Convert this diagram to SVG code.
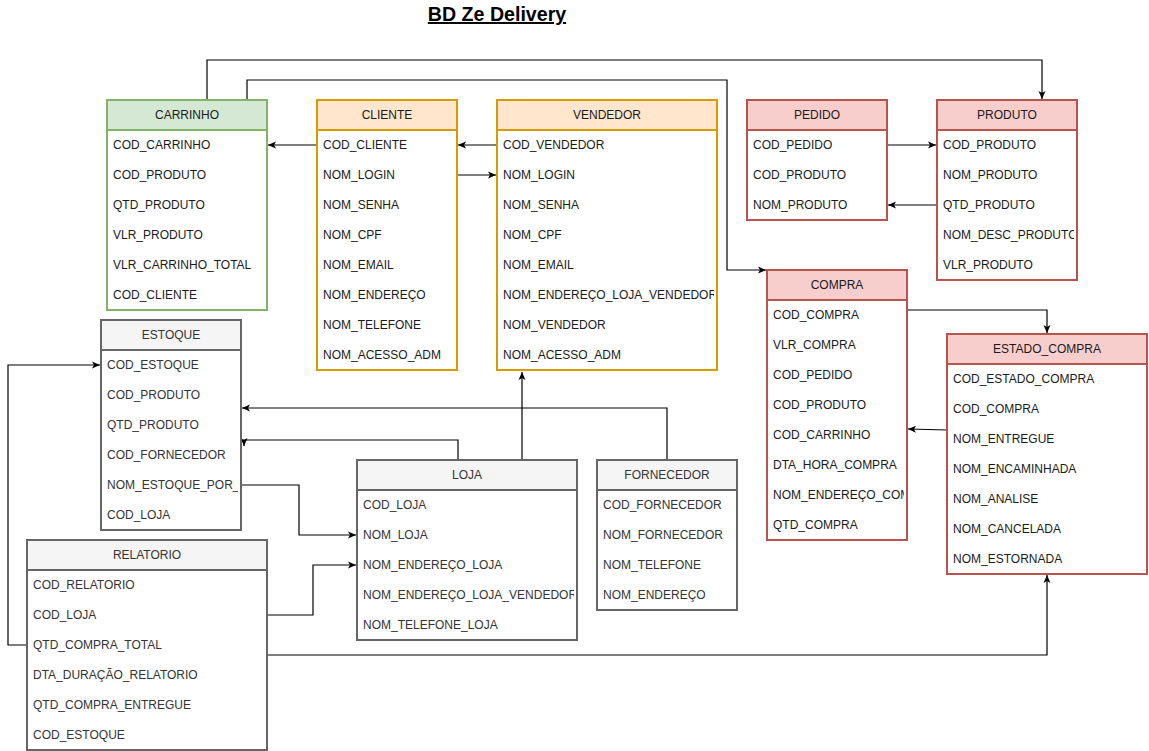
<svg xmlns="http://www.w3.org/2000/svg" width="1149" height="751" viewBox="0 0 1149 751">
<style>
.t{font-family:"Liberation Sans",Arial,sans-serif;font-size:12px;fill:#1a1a1a}
.g .t{fill:#333333}
.h{text-anchor:middle}
.box{stroke-width:2}
.green .box{fill:#ffffff;stroke:#82b366}.green .hd{fill:#d5e8d4;stroke:#82b366}
.orange .box{fill:#ffffff;stroke:#d79b00}.orange .hd{fill:#ffe6cc;stroke:#d79b00}
.red .box{fill:#ffffff;stroke:#b85450}.red .hd{fill:#f8cecc;stroke:#b85450}
.g .box{fill:#ffffff;stroke:#666666}.g .hd{fill:#f5f5f5;stroke:#666666}
.hd{stroke-width:2}
.c{fill:none;stroke:#000;stroke-width:1.2;marker-end:url(#a)}
.title{font-family:"Liberation Sans",Arial,sans-serif;font-size:19.6px;font-weight:bold;text-decoration:underline;fill:#000;text-anchor:middle}
</style>
<defs>
<marker id="a" viewBox="0 0 8 8" refX="8" refY="4" markerWidth="8" markerHeight="8" orient="auto" markerUnits="userSpaceOnUse">
<path d="M0,0.5 L8,4 L0,7.5 L2,4 z" fill="#000"/>
</marker>
<clipPath id="cvend"><rect x="497" y="100" width="217" height="270"/></clipPath>
<clipPath id="cloja"><rect x="357" y="460" width="217" height="180"/></clipPath>
<clipPath id="ccomp"><rect x="767" y="270" width="137" height="270"/></clipPath>
<clipPath id="cest"><rect x="101" y="320" width="137" height="210"/></clipPath>
<clipPath id="cprod"><rect x="937" y="100" width="137" height="180"/></clipPath>
</defs>
<rect width="1149" height="751" fill="#ffffff"/>
<text class="title" x="497" y="21">BD Ze Delivery</text>

<g id="connectors">
<path class="c" d="M207,100 V60 H1042 V99"/>
<path class="c" d="M247,100 V80 H727 V270 H766"/>
<path class="c" d="M317,145 H268"/>
<path class="c" d="M497,145 H458"/>
<path class="c" d="M457,175 H496"/>
<path class="c" d="M887,145 H936"/>
<path class="c" d="M937,205 H888"/>
<path class="c" d="M907,310 H1047 V333"/>
<path class="c" d="M947,430 L908,429"/>
<path class="c" d="M667,460 V408 H242"/>
<path class="c" d="M458,460 V440 H244 V446"/>
<path class="c" d="M522,460 V372"/>
<path class="c" d="M241,485 H299 V535 H356"/>
<path class="c" d="M267,615 H313 V565 H356"/>
<path class="c" d="M27,645 H8 V365 H100"/>
<path class="c" d="M267,705 V655 H1047 V575"/>
</g>

<g id="carrinho" class="green">
<rect class="box" x="107" y="100" width="160" height="210"/>
<rect class="hd" x="107" y="100" width="160" height="30"/>
<text class="t h" x="187" y="119">CARRINHO</text>
<text class="t" x="113" y="149">COD_CARRINHO</text>
<text class="t" x="113" y="179">COD_PRODUTO</text>
<text class="t" x="113" y="209">QTD_PRODUTO</text>
<text class="t" x="113" y="239">VLR_PRODUTO</text>
<text class="t" x="113" y="269">VLR_CARRINHO_TOTAL</text>
<text class="t" x="113" y="299">COD_CLIENTE</text>
</g>

<g id="cliente" class="orange">
<rect class="box" x="317" y="100" width="140" height="270"/>
<rect class="hd" x="317" y="100" width="140" height="30"/>
<text class="t h" x="387" y="119">CLIENTE</text>
<text class="t" x="323" y="149">COD_CLIENTE</text>
<text class="t" x="323" y="179">NOM_LOGIN</text>
<text class="t" x="323" y="209">NOM_SENHA</text>
<text class="t" x="323" y="239">NOM_CPF</text>
<text class="t" x="323" y="269">NOM_EMAIL</text>
<text class="t" x="323" y="299">NOM_ENDEREÇO</text>
<text class="t" x="323" y="329">NOM_TELEFONE</text>
<text class="t" x="323" y="359">NOM_ACESSO_ADM</text>
</g>

<g id="vendedor" class="orange">
<rect class="box" x="497" y="100" width="220" height="270"/>
<rect class="hd" x="497" y="100" width="220" height="30"/>
<text class="t h" x="607" y="119">VENDEDOR</text>
<g clip-path="url(#cvend)">
<text class="t" x="503" y="149">COD_VENDEDOR</text>
<text class="t" x="503" y="179">NOM_LOGIN</text>
<text class="t" x="503" y="209">NOM_SENHA</text>
<text class="t" x="503" y="239">NOM_CPF</text>
<text class="t" x="503" y="269">NOM_EMAIL</text>
<text class="t" x="503" y="299">NOM_ENDEREÇO_LOJA_VENDEDOR</text>
<text class="t" x="503" y="329">NOM_VENDEDOR</text>
<text class="t" x="503" y="359">NOM_ACESSO_ADM</text>
</g>
</g>

<g id="pedido" class="red">
<rect class="box" x="747" y="100" width="140" height="120"/>
<rect class="hd" x="747" y="100" width="140" height="30"/>
<text class="t h" x="817" y="119">PEDIDO</text>
<text class="t" x="753" y="149">COD_PEDIDO</text>
<text class="t" x="753" y="179">COD_PRODUTO</text>
<text class="t" x="753" y="209">NOM_PRODUTO</text>
</g>

<g id="produto" class="red">
<rect class="box" x="937" y="100" width="140" height="180"/>
<rect class="hd" x="937" y="100" width="140" height="30"/>
<text class="t h" x="1007" y="119">PRODUTO</text>
<g clip-path="url(#cprod)">
<text class="t" x="943" y="149">COD_PRODUTO</text>
<text class="t" x="943" y="179">NOM_PRODUTO</text>
<text class="t" x="943" y="209">QTD_PRODUTO</text>
<text class="t" x="943" y="239">NOM_DESC_PRODUTO</text>
<text class="t" x="943" y="269">VLR_PRODUTO</text>
</g>
</g>

<g id="compra" class="red">
<rect class="box" x="767" y="270" width="140" height="270"/>
<rect class="hd" x="767" y="270" width="140" height="30"/>
<text class="t h" x="837" y="289">COMPRA</text>
<g clip-path="url(#ccomp)">
<text class="t" x="773" y="319">COD_COMPRA</text>
<text class="t" x="773" y="349">VLR_COMPRA</text>
<text class="t" x="773" y="379">COD_PEDIDO</text>
<text class="t" x="773" y="409">COD_PRODUTO</text>
<text class="t" x="773" y="439">COD_CARRINHO</text>
<text class="t" x="773" y="469">DTA_HORA_COMPRA</text>
<text class="t" x="773" y="499">NOM_ENDEREÇO_COMPRA</text>
<text class="t" x="773" y="529">QTD_COMPRA</text>
</g>
</g>

<g id="estado_compra" class="red">
<rect class="box" x="947" y="334" width="200" height="240"/>
<rect class="hd" x="947" y="334" width="200" height="30"/>
<text class="t h" x="1047" y="353">ESTADO_COMPRA</text>
<text class="t" x="953" y="383">COD_ESTADO_COMPRA</text>
<text class="t" x="953" y="413">COD_COMPRA</text>
<text class="t" x="953" y="443">NOM_ENTREGUE</text>
<text class="t" x="953" y="473">NOM_ENCAMINHADA</text>
<text class="t" x="953" y="503">NOM_ANALISE</text>
<text class="t" x="953" y="533">NOM_CANCELADA</text>
<text class="t" x="953" y="563">NOM_ESTORNADA</text>
</g>

<g id="estoque" class="g">
<rect class="box" x="101" y="320" width="140" height="210"/>
<rect class="hd" x="101" y="320" width="140" height="30"/>
<text class="t h" x="171" y="339">ESTOQUE</text>
<g clip-path="url(#cest)">
<text class="t" x="107" y="369">COD_ESTOQUE</text>
<text class="t" x="107" y="399">COD_PRODUTO</text>
<text class="t" x="107" y="429">QTD_PRODUTO</text>
<text class="t" x="107" y="459">COD_FORNECEDOR</text>
<text class="t" x="107" y="489">NOM_ESTOQUE_POR_LOJA</text>
<text class="t" x="107" y="519">COD_LOJA</text>
</g>
</g>

<g id="loja" class="g">
<rect class="box" x="357" y="460" width="220" height="180"/>
<rect class="hd" x="357" y="460" width="220" height="30"/>
<text class="t h" x="467" y="479">LOJA</text>
<g clip-path="url(#cloja)">
<text class="t" x="363" y="509">COD_LOJA</text>
<text class="t" x="363" y="539">NOM_LOJA</text>
<text class="t" x="363" y="569">NOM_ENDEREÇO_LOJA</text>
<text class="t" x="363" y="599">NOM_ENDEREÇO_LOJA_VENDEDOR</text>
<text class="t" x="363" y="629">NOM_TELEFONE_LOJA</text>
</g>
</g>

<g id="fornecedor" class="g">
<rect class="box" x="597" y="460" width="140" height="150"/>
<rect class="hd" x="597" y="460" width="140" height="30"/>
<text class="t h" x="667" y="479">FORNECEDOR</text>
<text class="t" x="603" y="509">COD_FORNECEDOR</text>
<text class="t" x="603" y="539">NOM_FORNECEDOR</text>
<text class="t" x="603" y="569">NOM_TELEFONE</text>
<text class="t" x="603" y="599">NOM_ENDEREÇO</text>
</g>

<g id="relatorio" class="g">
<rect class="box" x="27" y="540" width="240" height="210"/>
<rect class="hd" x="27" y="540" width="240" height="30"/>
<text class="t h" x="147" y="559">RELATORIO</text>
<text class="t" x="33" y="589">COD_RELATORIO</text>
<text class="t" x="33" y="619">COD_LOJA</text>
<text class="t" x="33" y="649">QTD_COMPRA_TOTAL</text>
<text class="t" x="33" y="679">DTA_DURAÇÃO_RELATORIO</text>
<text class="t" x="33" y="709">QTD_COMPRA_ENTREGUE</text>
<text class="t" x="33" y="739">COD_ESTOQUE</text>
</g>
</svg>
